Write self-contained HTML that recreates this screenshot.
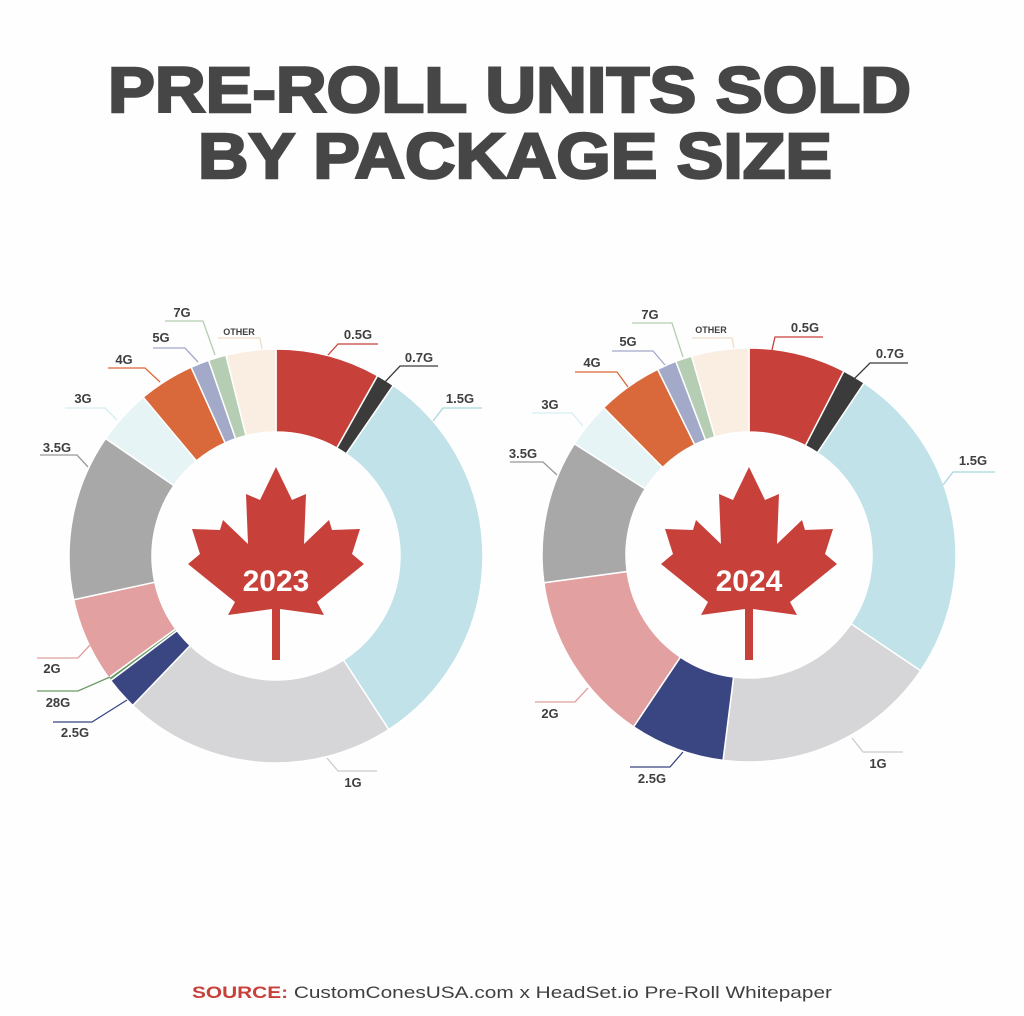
<!DOCTYPE html>
<html><head><meta charset="utf-8"><style>
html,body{margin:0;padding:0;background:#fefefe;}
svg{display:block;}
.l{font-family:"Liberation Sans",sans-serif;font-weight:bold;font-size:13px;fill:#3f3f3f;text-anchor:middle;}
.s{font-size:9px;}
</style></head><body>
<svg id="c" width="1024" height="1016" viewBox="0 0 1024 1016" xmlns="http://www.w3.org/2000/svg">
<rect width="1024" height="1016" fill="#fefefe"/>
<g font-family="Liberation Sans, sans-serif" font-weight="bold" fill="#464646" stroke="#464646" stroke-width="2.5">
<text x="108" y="112" font-size="64" textLength="803" lengthAdjust="spacingAndGlyphs">PRE-ROLL UNITS SOLD</text>
<text x="198" y="178" font-size="64" textLength="634" lengthAdjust="spacingAndGlyphs">BY PACKAGE SIZE</text>
</g>
<g id="d1"></g><g id="d2"></g>
<g fill="none" stroke-width="1.3">
<polyline stroke="#f0dcc8" points="218,338 260,338 262,349"/>
<polyline stroke="#c8403a" points="378,344 338,344 328,355"/>
<polyline stroke="#3b3b3b" points="438,366 400,366 385,382"/>
<polyline stroke="#a8d6de" points="482,408 443,408 433,421"/>
<polyline stroke="#d6eef2" points="65,408 105,408 117,420"/>
<polyline stroke="#d9693a" points="108,368 145,368 160,382"/>
<polyline stroke="#a3a9c8" points="153,348 185,348 198,362"/>
<polyline stroke="#b5cdb2" points="165,321 203,321 215,355"/>
<polyline stroke="#999" points="40,455 77,455 88,467"/>
<polyline stroke="#e2a0a0" points="37,658 78,658 90,645"/>
<polyline stroke="#6a9a66" points="37,691 78,691 110,677"/>
<polyline stroke="#3a4682" points="53,722 92,722 127,700"/>
<polyline stroke="#ccc" points="327,758 338,771 377,771"/>
<polyline stroke="#b5cdb2" points="632,323 672,323 683,357"/>
<polyline stroke="#f0dcc8" points="692,338 732,338 734,348"/>
<polyline stroke="#c8403a" points="823,337 775,337 772,350"/>
<polyline stroke="#3b3b3b" points="908,363 870,363 853,380"/>
<polyline stroke="#a8d6de" points="995,472 953,472 943,485"/>
<polyline stroke="#a3a9c8" points="612,351 653,351 665,365"/>
<polyline stroke="#d9693a" points="575,372 617,372 628,387"/>
<polyline stroke="#d6eef2" points="532,413 572,413 583,426"/>
<polyline stroke="#999" points="510,462 543,462 557,475"/>
<polyline stroke="#e2a0a0" points="535,702 575,702 588,688"/>
<polyline stroke="#3a4682" points="630,767 670,767 683,752"/>
<polyline stroke="#ccc" points="852,738 863,752 903,752"/>
</g>
<text class="l s" x="239" y="335">OTHER</text>
<text class="l" x="358" y="339">0.5G</text>
<text class="l" x="419" y="362">0.7G</text>
<text class="l" x="460" y="403">1.5G</text>
<text class="l" x="83" y="403">3G</text>
<text class="l" x="124" y="364">4G</text>
<text class="l" x="161" y="342">5G</text>
<text class="l" x="182" y="317">7G</text>
<text class="l" x="57" y="452">3.5G</text>
<text class="l" x="52" y="673">2G</text>
<text class="l" x="58" y="707">28G</text>
<text class="l" x="75" y="737">2.5G</text>
<text class="l" x="353" y="787">1G</text>
<text class="l" x="650" y="319">7G</text>
<text class="l s" x="711" y="333">OTHER</text>
<text class="l" x="805" y="332">0.5G</text>
<text class="l" x="890" y="358">0.7G</text>
<text class="l" x="973" y="465">1.5G</text>
<text class="l" x="628" y="346">5G</text>
<text class="l" x="592" y="367">4G</text>
<text class="l" x="550" y="409">3G</text>
<text class="l" x="523" y="458">3.5G</text>
<text class="l" x="550" y="718">2G</text>
<text class="l" x="652" y="783">2.5G</text>
<text class="l" x="878" y="768">1G</text>
<path id="leaf" fill="#c8403a" d="M0,0 L16,33 L30,27 L28,77 L53,53 L56,63 L84,62 L76,87 L88,97 L41,135 L48,148 L4,142 L4,193 L-4,193 L-4,142 L-48,148 L-41,135 L-88,97 L-76,87 L-84,62 L-56,63 L-53,53 L-28,77 L-30,27 L-16,33 Z" transform="translate(276,467)"/>
<use href="#leaf" transform="translate(473,0)"/>
<g font-family="Liberation Sans, sans-serif" font-weight="bold" font-size="30" fill="#fff" text-anchor="middle">
<text x="276" y="591">2023</text>
<text x="749" y="591">2024</text>
</g>
<text x="192" y="998" font-family="Liberation Sans, sans-serif" font-size="17" fill="#3f3f3f" textLength="640" lengthAdjust="spacingAndGlyphs"><tspan font-weight="bold" fill="#c8403a">SOURCE:</tspan> CustomConesUSA.com x HeadSet.io Pre-Roll Whitepaper</text>
</svg>
<script>
function donut(id,cx,cy,R,r,segs){
 var g=document.getElementById(id),a0=0,s='';
 segs.forEach(function(sg){
  var a1=sg[0],c=sg[1];
  function p(rad,a){var t=a*Math.PI/180;return (cx+rad*Math.sin(t)).toFixed(2)+','+(cy-rad*Math.cos(t)).toFixed(2);}
  var lg=(a1-a0)>180?1:0;
  s+='<path d="M'+p(R,a0)+' A'+R+','+R+' 0 '+lg+' 1 '+p(R,a1)+' L'+p(r,a1)+' A'+r+','+r+' 0 '+lg+' 0 '+p(r,a0)+' Z" fill="'+c+'" stroke="#fff" stroke-width="1.5"/>';
  a0=a1;
 });
 g.innerHTML=s;
}
var C={h:'#c8403a',k:'#3b3b3b',b:'#c0e2e8',g1:'#d6d6d8',n:'#3a4682',gr:'#6a9a66',p:'#e2a0a0',g35:'#a8a8a8',g3:'#e6f4f6',o:'#d9693a',v:'#a3a9c8',gn:'#b5cdb2',ot:'#faeee2'};
donut('d1',276,556,207,124,[[29.4,C.h],[34.5,C.k],[147,C.b],[223.8,C.g1],[233,C.n],[234,C.gr],[257.8,C.p],[304.6,C.g35],[320.1,C.g3],[335.8,C.o],[341,C.v],[346,C.gn],[360,C.ot]]);
donut('d2',749,555,207,123,[[27.3,C.h],[33.8,C.k],[124,C.b],[187.2,C.g1],[213.9,C.n],[262.3,C.p],[302.5,C.g35],[315.4,C.g3],[333.8,C.o],[339.3,C.v],[343.9,C.gn],[360,C.ot]]);
</script>
</body></html>
